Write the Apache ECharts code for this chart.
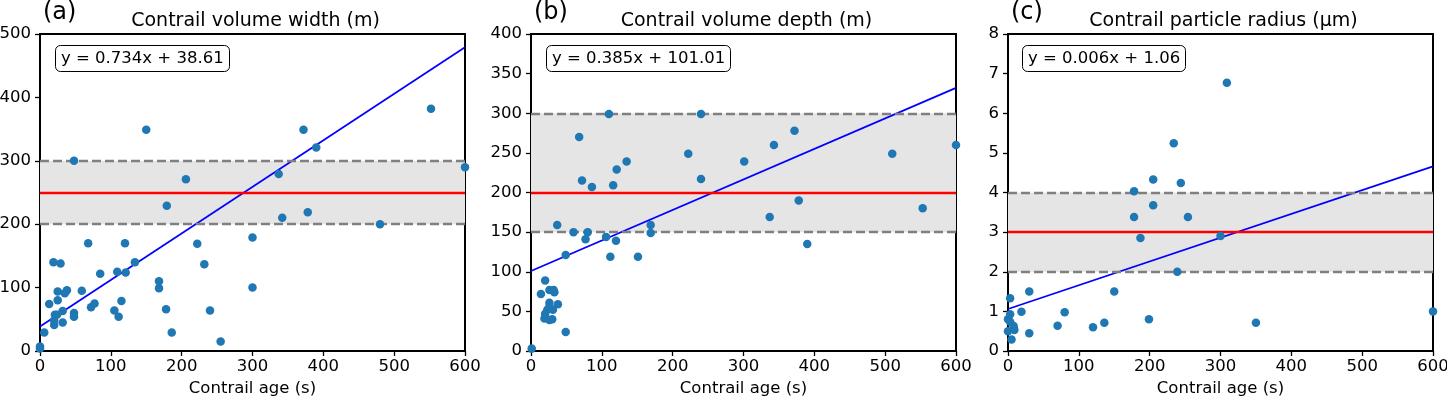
<!DOCTYPE html>
<html>
<head>
<meta charset="utf-8">
<script src="https://cdn.jsdelivr.net/npm/echarts@6/dist/echarts.min.js"></script>
<style>
  html, body { margin: 0; padding: 0; background: #fff; }
  #chart { width: 1447px; height: 397px; }
</style>
</head>
<body>
<div id="chart"></div>
<script>
// panel data (age in s)
var widthAge = [0, 0, 6, 13, 19, 29, 25, 25, 38, 35, 32, 20, 20, 21, 24, 32, 48, 48, 48, 59, 68, 72, 77, 85, 105, 109, 111, 115, 120, 121, 134, 150, 168, 168, 178, 179, 186, 206, 222, 232, 240, 255, 300, 300, 337, 342, 372, 378, 390, 480, 552, 600];
var widthValue = [7, 4, 29, 74, 140, 138, 94, 80, 96, 91, 63, 41, 48, 57, 57, 45, 300, 60, 54, 95, 170, 69, 75, 122, 64, 125, 54, 79, 170, 124, 140, 349, 110, 99, 66, 229, 29, 271, 169, 137, 64, 15, 179, 100, 279, 210, 349, 219, 321, 200, 382, 290];

var depthAge = [1, 14, 20, 26, 32, 33, 38, 26, 26, 23, 20, 31, 19, 26, 30, 49, 49, 37, 60, 80, 77, 68, 72, 86, 110, 116, 121, 135, 106, 112, 120, 151, 169, 169, 222, 240, 240, 301, 337, 343, 372, 378, 390, 510, 553, 600];
var depthValue = [3, 72, 89, 77, 77, 74, 59, 61, 56, 52, 47, 52, 41, 39, 40, 24, 121, 159, 150, 150, 141, 270, 215, 207, 299, 209, 229, 239, 144, 119, 139, 119, 159, 149, 249, 299, 217, 239, 169, 260, 278, 190, 135, 249, 180, 260];

var radiusAge = [0, 0, 3, 3, 3, 8, 8, 9, 5, 19, 30, 30, 70, 80, 120, 136, 150, 178, 178, 187, 199, 205, 205, 234, 239, 244, 254, 300, 309, 350, 600];
var radiusValue = [0.8, 0.5, 1.33, 0.93, 0.74, 0.63, 0.57, 0.53, 0.29, 0.99, 1.5, 0.45, 0.64, 0.98, 0.6, 0.71, 1.5, 4.03, 3.38, 2.85, 0.8, 4.33, 3.68, 5.24, 2.0, 4.24, 3.38, 2.9, 6.77, 0.71, 1.0];

var titles = ['Contrail volume width (m)', 'Contrail volume depth (m)', 'Contrail particle radius (μm)'];
var panelTags = ['(a)', '(b)', '(c)'];
var slopes = [0.734, 0.385, 0.006];
var intercepts = [38.61, 101.01, 1.06];
var equations = ['y = 0.734x + 38.61', 'y = 0.385x + 101.01', 'y = 0.006x + 1.06'];
var targets = [250, 200, 3];
var bandLow = [200, 150, 2];
var bandHigh = [300, 300, 4];
var yMax = [500, 400, 8];
var yStep = [100, 50, 1];
var xMax = 600;

var font = 'DejaVu Sans';
var gridLeft = [40, 531, 1008];
var gridWidth = 425;
var eqLeft = [55, 546, 1022];

var pairs = function (xs, ys) {
  return xs.map(function (x, i) { return [x, ys[i]]; });
};
var points = [pairs(widthAge, widthValue), pairs(depthAge, depthValue), pairs(radiusAge, radiusValue)];

var option = {
  backgroundColor: '#fff',
  animation: false,
  title: [],
  grid: [],
  xAxis: [],
  yAxis: [],
  series: []
};

for (var i = 0; i < 3; i++) {
  option.grid.push({
    left: gridLeft[i], top: 34, width: gridWidth, height: 317,
    outerBoundsMode: 'none', containLabel: false,
    show: true, borderColor: '#000', borderWidth: 2, backgroundColor: 'transparent'
  });
  option.title.push({
    text: titles[i],
    left: gridLeft[i] + gridWidth / 2 - 2, top: 7, textAlign: 'center',
    textStyle: { fontFamily: font, fontSize: 19, fontWeight: 'normal', color: '#000' }
  });
  option.title.push({
    text: panelTags[i],
    left: gridLeft[i] - 2, top: -4,
    textStyle: { fontFamily: font, fontSize: 24, fontWeight: 'normal', color: '#000' }
  });
  option.title.push({
    text: equations[i],
    left: eqLeft[i], top: 45,
    padding: [5, 6],
    borderColor: '#000', borderWidth: 1, borderRadius: 5,
    backgroundColor: '#fff',
    textStyle: { fontFamily: font, fontSize: 16.5, fontWeight: 'normal', color: '#000' }
  });
  option.xAxis.push({
    gridIndex: i, type: 'value', min: 0, max: xMax, interval: 100,
    name: 'Contrail age (s)', nameLocation: 'middle', nameGap: 27,
    nameTextStyle: { fontFamily: font, fontSize: 16.5, color: '#000' },
    axisLine: { show: true, onZero: false, lineStyle: { color: '#000', width: 2 } },
    axisTick: { show: true, length: 5, lineStyle: { color: '#000', width: 1.3 } },
    axisLabel: { fontFamily: font, fontSize: 16.5, color: '#000', margin: 7 },
    splitLine: { show: false }
  });
  option.yAxis.push({
    gridIndex: i, type: 'value', min: 0, max: yMax[i], interval: yStep[i],
    axisLine: { show: true, onZero: false, lineStyle: { color: '#000', width: 2 } },
    axisTick: { show: true, length: 5, lineStyle: { color: '#000', width: 1.3 } },
    axisLabel: { fontFamily: font, fontSize: 16.5, color: '#000', margin: 9 },
    splitLine: { show: false }
  });

  // regression line with band and reference lines
  option.series.push({
    type: 'line', xAxisIndex: i, yAxisIndex: i,
    data: [[0, intercepts[i]], [xMax, slopes[i] * xMax + intercepts[i]]],
    showSymbol: false, symbol: 'none',
    lineStyle: { color: 'blue', width: 1.7 },
    z: 4,
    markArea: {
      silent: true,
      itemStyle: { color: '#e5e5e5' },
      data: [[{ yAxis: bandLow[i] }, { yAxis: bandHigh[i] }]]
    },
    markLine: {
      silent: true, symbol: 'none', animation: false,
      label: { show: false },
      data: [
        { yAxis: bandLow[i], lineStyle: { color: '#808080', width: 2.3, type: [9, 4] } },
        { yAxis: bandHigh[i], lineStyle: { color: '#808080', width: 2.3, type: [9, 4] } },
        { yAxis: targets[i], lineStyle: { color: 'red', width: 2.3, type: 'solid' } }
      ]
    }
  });
  option.series.push({
    type: 'scatter', xAxisIndex: i, yAxisIndex: i,
    data: points[i],
    symbolSize: 8.5,
    clip: true,
    itemStyle: { color: '#1f77b4', opacity: 1 },
    z: 5
  });
}

var chart = echarts.init(document.getElementById('chart'));
chart.setOption(option);
</script>
</body>
</html>
